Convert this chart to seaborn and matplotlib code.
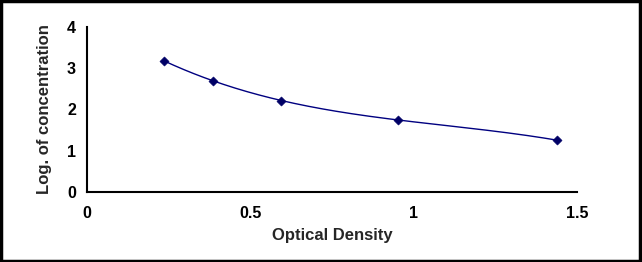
import seaborn as sns
import matplotlib.pyplot as plt
from matplotlib.patches import Rectangle
import pandas as pd
import numpy as np

# Standard curve points
optical_density = [0.236, 0.387, 0.594, 0.953, 1.439]
log_concentration = [3.17, 2.69, 2.21, 1.74, 1.25]

x_ticks = [0, 0.5, 1, 1.5]
x_tick_labels = ["0", "0.5", "1", "1.5"]
y_ticks = [0, 1, 2, 3, 4]

sns.set_style("white")
plt.rcParams['font.family'] = ['Liberation Sans', 'DejaVu Sans']

df = pd.DataFrame({'od': optical_density, 'logc': log_concentration})

# smooth fitted curve (cubic fit through the standards)
coef = np.polyfit(df['od'], df['logc'], 3)
xs = np.linspace(df['od'].min(), df['od'].max(), 200)
fit = pd.DataFrame({'od': xs, 'logc': np.polyval(coef, xs)})

fig = plt.figure(figsize=(6.42, 2.62), dpi=100)
ax = fig.add_axes([0.1355, 0.268, 0.7635, 0.63])

sns.lineplot(data=fit, x='od', y='logc', ax=ax, color='#000080', linewidth=1)
sns.scatterplot(data=df, x='od', y='logc', ax=ax, marker='D', s=22,
                color='#000066', edgecolor='#000066', zorder=3)

ax.set_xlim(0, 1.5)
ax.set_ylim(0, 4)
ax.set_xticks(x_ticks)
ax.set_xticklabels(x_tick_labels)
ax.set_yticks(y_ticks)

for side in ['top', 'right']:
    ax.spines[side].set_visible(False)
for side in ['left', 'bottom']:
    ax.spines[side].set_linewidth(1.5)
    ax.spines[side].set_color('black')

ax.tick_params(axis='both', direction='in', length=5, width=1.5, colors='black',
               labelsize=11.5)
ax.tick_params(axis='x', pad=10)
ax.tick_params(axis='y', pad=8)
for lbl in ax.get_xticklabels() + ax.get_yticklabels():
    lbl.set_fontweight('bold')

ax.set_xlabel('Optical Density', fontsize=12, fontweight='bold', labelpad=5)
ax.set_ylabel('Log. of concentration', fontsize=12, fontweight='bold', labelpad=11)

# black frame round the whole picture
fig.add_artist(Rectangle((0.002, 0.003), 0.995, 0.993, transform=fig.transFigure,
                         fill=False, edgecolor='black', linewidth=2.5))

fig.savefig('out.png', dpi=100)
